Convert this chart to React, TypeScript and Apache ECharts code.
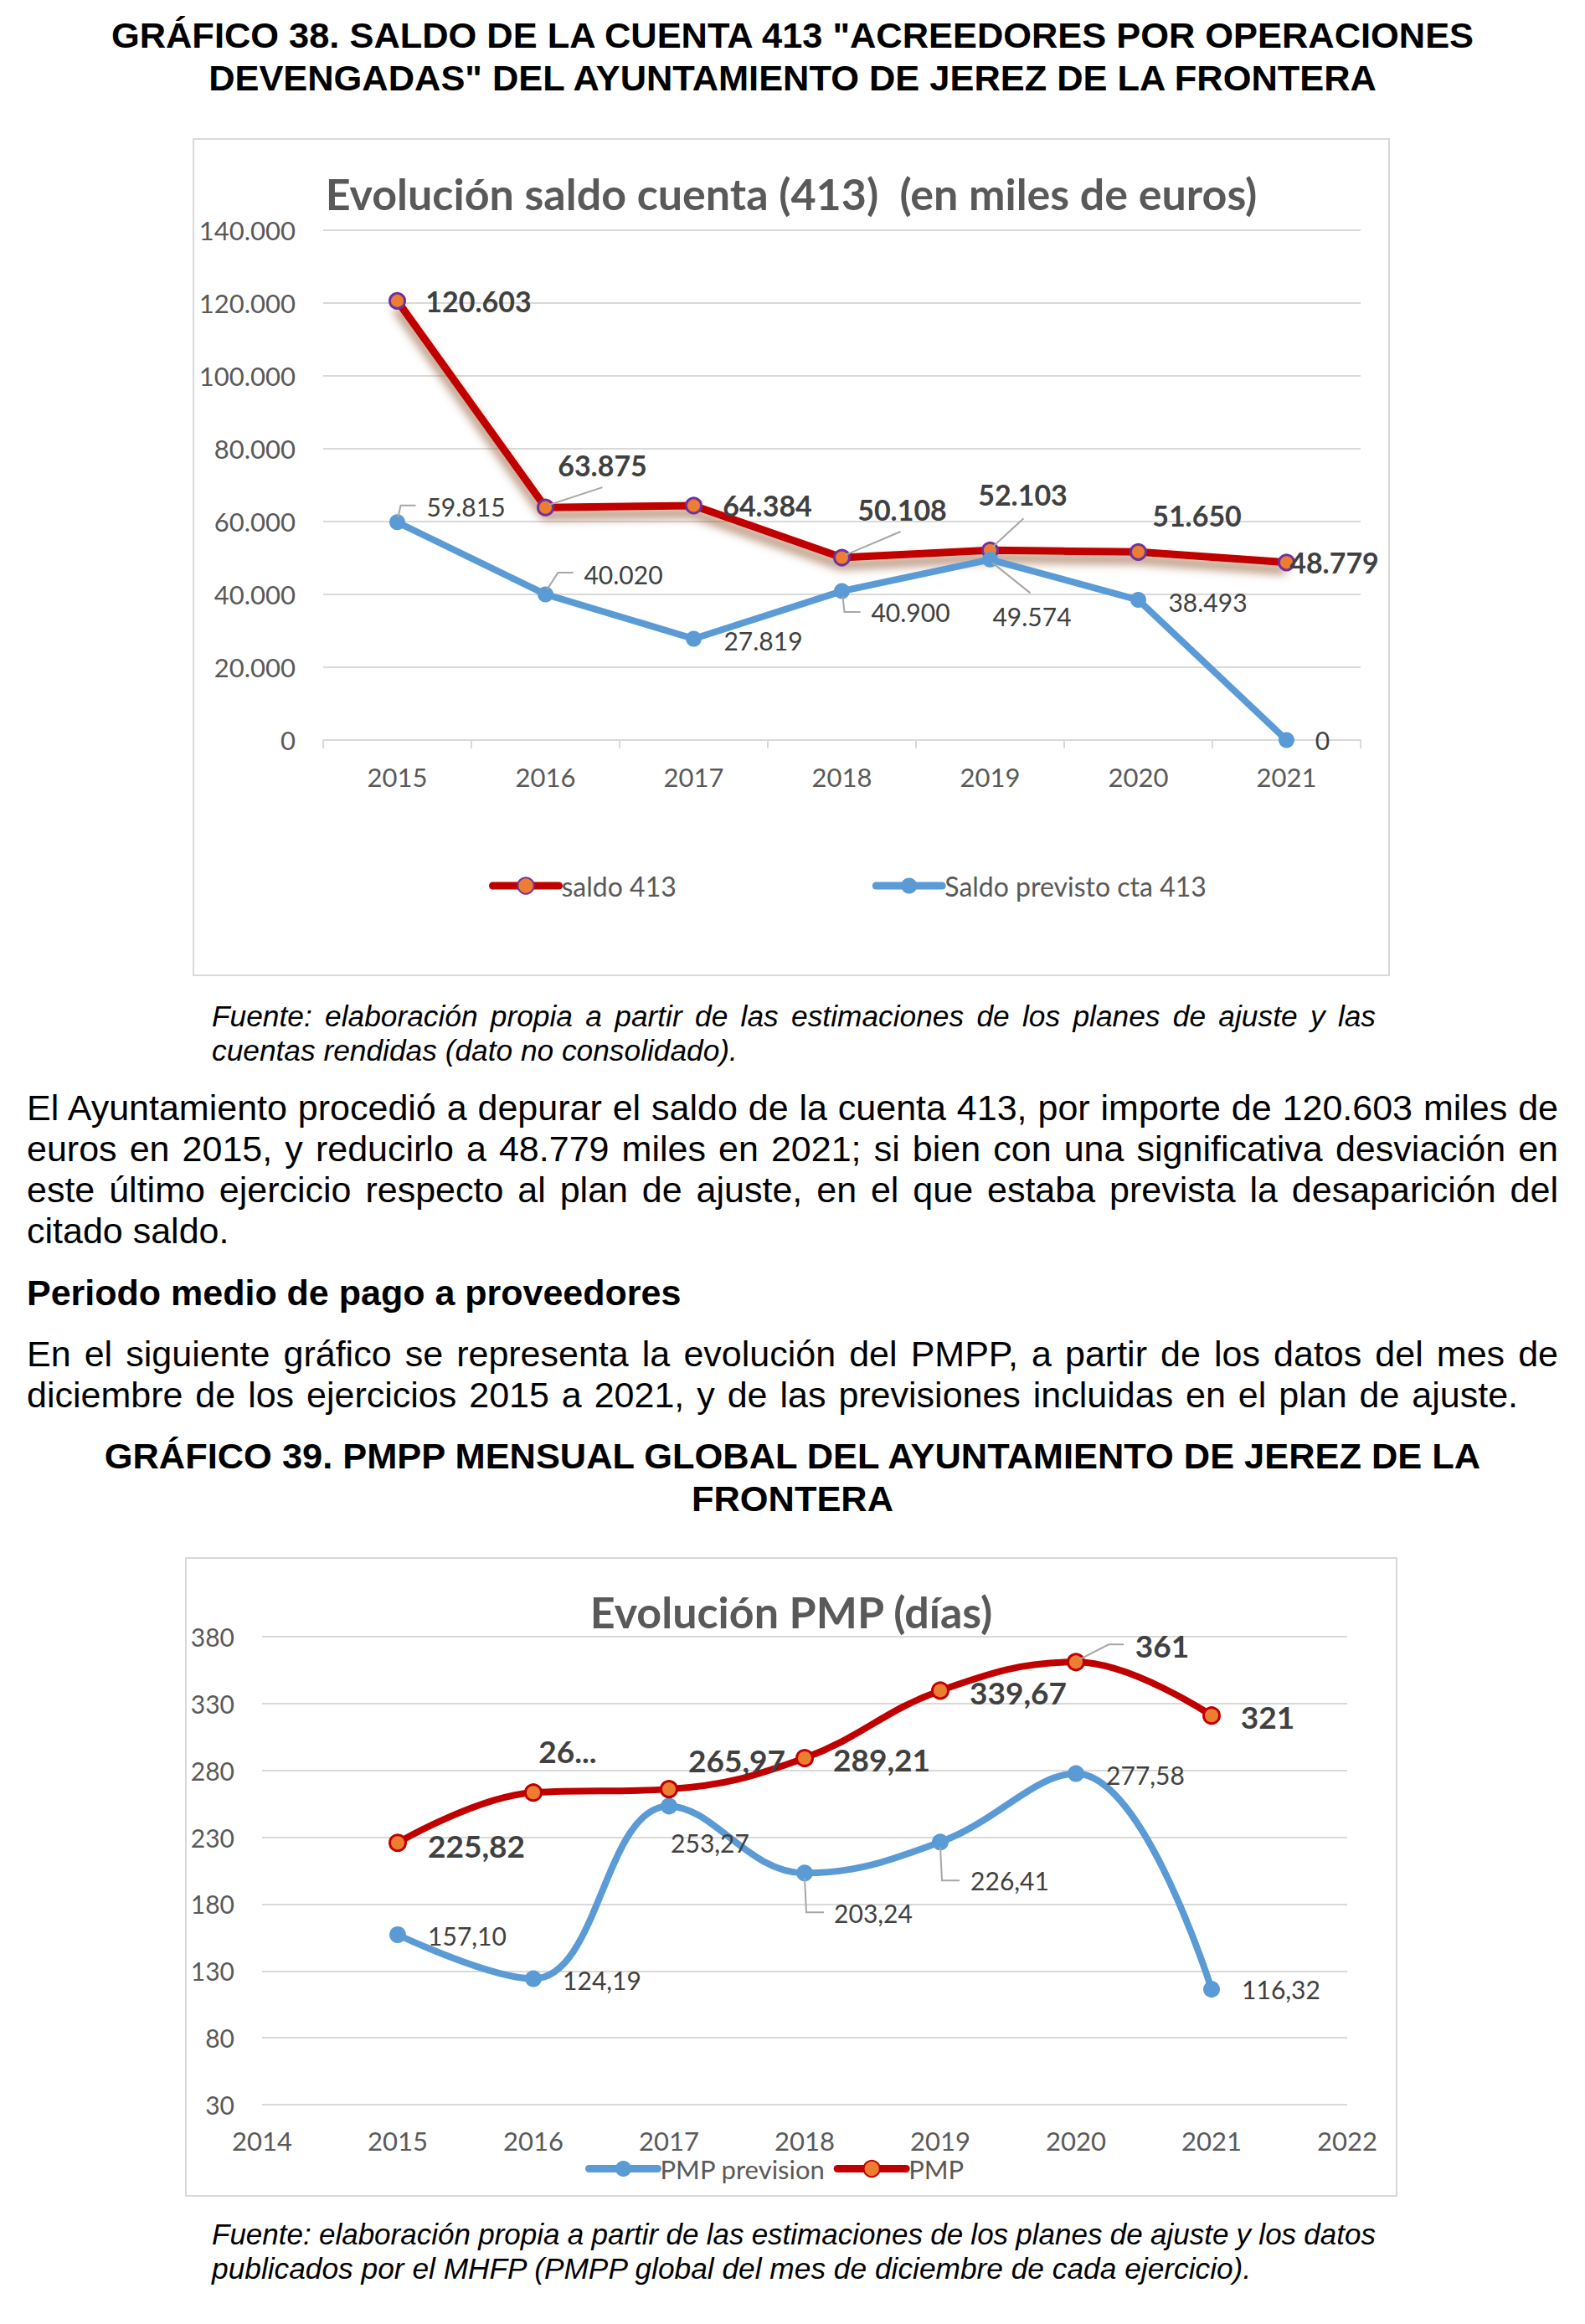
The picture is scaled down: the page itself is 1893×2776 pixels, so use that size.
import React, { useEffect, useRef } from "react";
import * as echarts from "echarts";

// ---------- Data: Gráfico 38 ----------
const years413 = ["2015", "2016", "2017", "2018", "2019", "2020", "2021"];
const saldo413 = [120603, 63875, 64384, 50108, 52103, 51650, 48779];
const saldoPrevisto413 = [59815, 40020, 27819, 40900, 49574, 38493, 0];
const y413Min = 0;
const y413Max = 140000;
const y413Interval = 20000;

// ---------- Data: Gráfico 39 ----------
const pmpYears = [2015, 2016, 2017, 2018, 2019, 2020, 2021];
const pmpPrevision = [157.1, 124.19, 253.27, 203.24, 226.41, 277.58, 116.32];
const pmpReal = [225.82, 263.4, 265.97, 289.21, 339.67, 361, 321];
const pmpRealLabelText: Record<number, string> = { 1: "26..." };
const pmpXMin = 2014;
const pmpXMax = 2022;
const pmpYMin = 30;
const pmpYMax = 380;
const pmpYInterval = 50;

// ---------- Label layout (pixel offsets of label centre from point) ----------
const saldoLabelOff = [[97, 0], [68, -51], [88, 0], [72, -58], [39, -67], [70, -44], [57, 0]];
const previstoLabelOff = [[82, -19], [93, -24], [83, 2], [82, 25], [50, 68], [83, 2], [43, 0]];
const saldoLeaders: Record<number, number[][]> = {
  1: [[4, -3], [68, -24]],
  3: [[4, -3], [70, -31]],
  4: [[3, -4], [40, -38]],
};
const previstoLeaders: Record<number, number[][]> = {
  0: [[1, -6], [4, -20], [22, -20]],
  1: [[2, -6], [15, -26], [33, -26]],
  3: [[1, 6], [3, 25], [22, 25]],
  4: [[3, 4], [48, 40]],
};
const pmpRealLabelOff = [[94, 3], [41, -50], [81, -35], [92, 1], [93, 2], [103, -20], [67, 1]];
const pmpPrevLabelOff = [[83, 1], [82, 1], [49, 44], [82, 48], [83, 46], [83, 1], [83, 0]];
const pmpRealLeaders: Record<number, number[][]> = {
  5: [[4, -3], [39, -21], [57, -21]],
};
const pmpPrevLeaders: Record<number, number[][]> = {
  3: [[0, 6], [2, 47], [23, 47]],
  4: [[0, 6], [2, 46], [23, 46]],
};

const dots = (v: number) => String(Math.round(v)).replace(/\B(?=(\d{3})+(?!\d))/g, ".");
const comma2 = (v: number) => v.toFixed(2).replace(".", ",");

const LABEL_FONT = "Lato";
const GRAY = "#595959";
const DARK = "#404040";
const GRID = "#D9D9D9";

function leaderSeries(xs: (number | string)[], ys: number[], leaders: Record<number, number[][]>, useIndex: boolean) {
  const entries = Object.keys(leaders).map((k) => Number(k));
  return {
    type: "custom",
    silent: true,
    z: 5,
    data: entries.map((i) => [useIndex ? i : xs[i], ys[i]]),
    renderItem: (params: any, api: any) => {
      const p = api.coord([api.value(0), api.value(1)]);
      const pts = leaders[entries[params.dataIndex]].map(([dx, dy]) => [p[0] + dx, p[1] + dy]);
      return {
        type: "polyline",
        shape: { points: pts },
        style: { stroke: "#A6A6A6", lineWidth: 2, fill: "none" },
      };
    },
  };
}

function Chart({ option, style }: { option: any; style: React.CSSProperties }) {
  const ref = useRef<HTMLDivElement>(null);
  useEffect(() => {
    if (!ref.current) return;
    const chart = echarts.init(ref.current, null, { renderer: "svg" });
    chart.setOption(option);
    return () => chart.dispose();
  }, [option]);
  return <div ref={ref} style={style} />;
}

const option413 = {
  animation: false,
  title: {
    text: "Evolución saldo cuenta (413)  (en miles de euros)",
    left: "center",
    top: 31,
    textStyle: { fontFamily: LABEL_FONT, fontWeight: "bold", fontSize: 52, color: GRAY, lineHeight: 60 },
  },
  grid: { left: 156, right: 35, top: 110, bottom: 282, containLabel: false },
  legend: {
    data: ["saldo 413", "Saldo previsto cta 413"],
    left: 349,
    top: 872,
    itemWidth: 79,
    itemHeight: 24,
    itemGap: 234,
    lineStyle: { width: 9, cap: "round" },
    textStyle: { fontFamily: LABEL_FONT, fontSize: 32, color: GRAY, padding: [0, 0, 0, -2] },
  },
  xAxis: {
    type: "category",
    data: years413,
    boundaryGap: true,
    axisLine: { lineStyle: { color: GRID, width: 2 } },
    axisTick: { show: true, length: 10, lineStyle: { color: GRID, width: 2 } },
    axisLabel: { fontFamily: LABEL_FONT, fontSize: 31, color: GRAY, margin: 28 },
  },
  yAxis: {
    type: "value",
    min: y413Min,
    max: y413Max,
    interval: y413Interval,
    axisLine: { show: false },
    axisTick: { show: false },
    splitLine: { lineStyle: { color: GRID, width: 2 } },
    axisLabel: { fontFamily: LABEL_FONT, fontSize: 31, color: GRAY, margin: 33, formatter: (v: number) => dots(v) },
  },
  series: [
    {
      name: "saldo 413",
      type: "line",
      symbol: "circle",
      symbolSize: 18,
      data: saldo413.map((v, i) => ({ value: v, label: { offset: saldoLabelOff[i] } })),
      lineStyle: {
        color: "#C00000",
        width: 9,
        shadowColor: "rgba(140,80,40,0.75)",
        shadowBlur: 12,
        shadowOffsetY: 9,
        shadowOffsetX: -1,
      },
      itemStyle: { color: "#ED7D31", borderColor: "#7030A0", borderWidth: 3 },
      label: {
        show: true,
        position: "inside",
        fontFamily: LABEL_FONT,
        fontWeight: "bold",
        fontSize: 34,
        color: DARK,
        formatter: (p: any) => dots(p.value),
      },
      emphasis: { disabled: true },
      z: 3,
    },
    {
      name: "Saldo previsto cta 413",
      type: "line",
      symbol: "circle",
      symbolSize: 19,
      data: saldoPrevisto413.map((v, i) => ({ value: v, label: { offset: previstoLabelOff[i] } })),
      lineStyle: { color: "#5B9BD5", width: 8 },
      itemStyle: { color: "#5B9BD5" },
      label: {
        show: true,
        position: "inside",
        fontFamily: LABEL_FONT,
        fontSize: 30,
        color: DARK,
        formatter: (p: any) => dots(p.value),
      },
      emphasis: { disabled: true },
      z: 4,
    },
    leaderSeries(years413, saldo413, saldoLeaders, true),
    leaderSeries(years413, saldoPrevisto413, previstoLeaders, true),
  ],
};

const optionPMP = {
  animation: false,
  title: {
    text: "Evolución PMP (días)",
    left: "center",
    top: 30,
    textStyle: { fontFamily: LABEL_FONT, fontWeight: "bold", fontSize: 52, color: GRAY, lineHeight: 60 },
  },
  grid: { left: 92, right: 60, top: 95, bottom: 110, containLabel: false },
  legend: {
    data: ["PMP prevision", "PMP"],
    left: 473,
    top: 710,
    itemWidth: 82,
    itemHeight: 24,
    itemGap: 10,
    lineStyle: { width: 9, cap: "round" },
    textStyle: { fontFamily: LABEL_FONT, fontSize: 31, color: GRAY, padding: [0, 0, 0, -2] },
  },
  xAxis: {
    type: "value",
    min: pmpXMin,
    max: pmpXMax,
    interval: 1,
    axisLine: { show: false },
    axisTick: { show: false },
    splitLine: { show: false },
    axisLabel: { fontFamily: LABEL_FONT, fontSize: 31, color: GRAY, margin: 27, formatter: (v: number) => String(v) },
  },
  yAxis: {
    type: "value",
    min: pmpYMin,
    max: pmpYMax,
    interval: pmpYInterval,
    axisLine: { show: false },
    axisTick: { show: false },
    splitLine: { lineStyle: { color: GRID, width: 2 } },
    axisLabel: { fontFamily: LABEL_FONT, fontSize: 30, color: GRAY, margin: 33 },
  },
  series: [
    {
      name: "PMP prevision",
      type: "line",
      smooth: 0.4,
      symbol: "circle",
      symbolSize: 20,
      data: pmpPrevision.map((v, i) => ({ value: [pmpYears[i], v], label: { offset: pmpPrevLabelOff[i] } })),
      lineStyle: { color: "#5B9BD5", width: 8 },
      itemStyle: { color: "#5B9BD5" },
      label: {
        show: true,
        position: "inside",
        fontFamily: LABEL_FONT,
        fontSize: 30,
        color: DARK,
        formatter: (p: any) => comma2(p.value[1]),
      },
      emphasis: { disabled: true },
      z: 3,
    },
    {
      name: "PMP",
      type: "line",
      smooth: 0.4,
      symbol: "circle",
      symbolSize: 19,
      data: pmpReal.map((v, i) => ({ value: [pmpYears[i], v], label: { offset: pmpRealLabelOff[i] } })),
      lineStyle: { color: "#C00000", width: 8 },
      itemStyle: { color: "#ED7D31", borderColor: "#C00000", borderWidth: 3 },
      label: {
        show: true,
        position: "inside",
        fontFamily: LABEL_FONT,
        fontWeight: "bold",
        fontSize: 37,
        color: DARK,
        formatter: (p: any) =>
          pmpRealLabelText[p.dataIndex] ??
          (Number.isInteger(p.value[1]) ? String(p.value[1]) : comma2(p.value[1])),
      },
      emphasis: { disabled: true },
      z: 4,
    },
    leaderSeries(pmpYears, pmpReal, pmpRealLeaders, false),
    leaderSeries(pmpYears, pmpPrevision, pmpPrevLeaders, false),
  ],
};

const TXT: React.CSSProperties = {
  position: "absolute",
  fontFamily: '"Liberation Sans", Arial, sans-serif',
  color: "#000",
  whiteSpace: "nowrap",
  margin: 0,
};

function JLine({ top, left, width, size, lh, italic, ws, children }: any) {
  return (
    <div
      style={{
        ...TXT,
        top,
        left,
        width,
        fontSize: size,
        lineHeight: `${lh}px`,
        fontStyle: italic ? "italic" : "normal",
        textAlign: "justify",
        textAlignLast: "justify" as any,
        wordSpacing: ws ?? 0,
      }}
    >
      {children}
    </div>
  );
}

function PLine({ top, left, size, lh, italic, bold, children }: any) {
  return (
    <div
      style={{
        ...TXT,
        top,
        left,
        fontSize: size,
        lineHeight: `${lh}px`,
        fontStyle: italic ? "italic" : "normal",
        fontWeight: bold ? "bold" : "normal",
      }}
    >
      {children}
    </div>
  );
}

function CLine({ top, children }: any) {
  return (
    <div
      style={{
        ...TXT,
        top,
        left: 0,
        width: 1893,
        textAlign: "center",
        fontSize: 43.4,
        fontWeight: "bold",
        lineHeight: "51px",
      }}
    >
      {children}
    </div>
  );
}

export default function App() {
  const P = { left: 32, width: 1829, size: 43, lh: 49 };
  const F = { left: 253, width: 1390, size: 35.3, lh: 41 };
  return (
    <div style={{ position: "absolute", left: 0, top: 0, width: 1893, height: 2776, background: "#fff", overflow: "hidden" }}>
      <CLine top={17}>GRÁFICO 38. SALDO DE LA CUENTA 413 "ACREEDORES POR OPERACIONES</CLine>
      <CLine top={68}>DEVENGADAS" DEL AYUNTAMIENTO DE JEREZ DE LA FRONTERA</CLine>

      <div
        style={{
          position: "absolute",
          left: 230,
          top: 165,
          width: 1430,
          height: 1001,
          border: "2px solid #D9D9D9",
          boxSizing: "border-box",
        }}
      >
        <Chart option={option413} style={{ position: "absolute", left: -2, top: -2, width: 1430, height: 1001 }} />
      </div>

      <JLine top={1193} {...F} italic>
        Fuente: elaboración propia a partir de las estimaciones de los planes de ajuste y las
      </JLine>
      <PLine top={1234} left={F.left} size={F.size} lh={F.lh} italic>
        cuentas rendidas (dato no consolidado).
      </PLine>

      <JLine top={1299} {...P}>
        El Ayuntamiento procedió a depurar el saldo de la cuenta 413, por importe de 120.603 miles de
      </JLine>
      <JLine top={1348} {...P}>
        euros en 2015, y reducirlo a 48.779 miles en 2021; si bien con una significativa desviación en
      </JLine>
      <JLine top={1397} {...P}>
        este último ejercicio respecto al plan de ajuste, en el que estaba prevista la desaparición del
      </JLine>
      <PLine top={1446} left={P.left} size={P.size} lh={P.lh}>
        citado saldo.
      </PLine>

      <PLine top={1520} left={P.left} size={P.size} lh={P.lh} bold>
        Periodo medio de pago a proveedores
      </PLine>

      <JLine top={1593} {...P}>
        En el siguiente gráfico se representa la evolución del PMPP, a partir de los datos del mes de
      </JLine>
      <JLine top={1642} left={P.left} width={1781} size={P.size} lh={P.lh}>
        diciembre de los ejercicios 2015 a 2021, y de las previsiones incluidas en el plan de ajuste.
      </JLine>

      <CLine top={1714}>GRÁFICO 39. PMPP MENSUAL GLOBAL DEL AYUNTAMIENTO DE JEREZ DE LA</CLine>
      <CLine top={1765}>FRONTERA</CLine>

      <div
        style={{
          position: "absolute",
          left: 221,
          top: 1860,
          width: 1448,
          height: 764,
          border: "2px solid #D9D9D9",
          boxSizing: "border-box",
        }}
      >
        <Chart option={optionPMP} style={{ position: "absolute", left: -2, top: -2, width: 1448, height: 764 }} />
      </div>

      <JLine top={2648} {...F} size={35} ws={-1.2} italic>
        Fuente: elaboración propia a partir de las estimaciones de los planes de ajuste y los datos
      </JLine>
      <PLine top={2689} left={F.left} size={F.size} lh={F.lh} italic>
        publicados por el MHFP (PMPP global del mes de diciembre de cada ejercicio).
      </PLine>
    </div>
  );
}
